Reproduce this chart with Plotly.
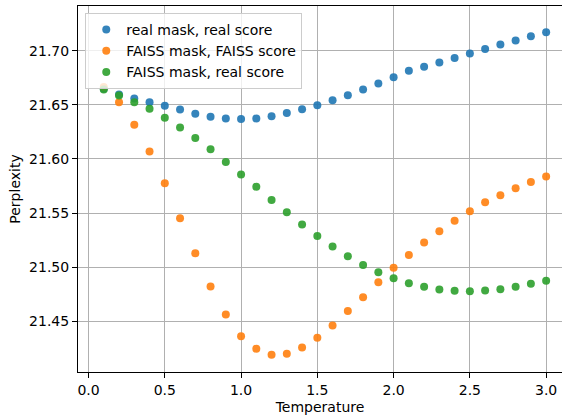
import plotly.graph_objects as go

temperature = [round(0.1 * i, 1) for i in range(1, 31)]

real_mask_real_score = [
    21.6650, 21.6596, 21.6559, 21.6525, 21.6492, 21.6458, 21.6418, 21.6391, 21.6375, 21.6369,
    21.6375, 21.6396, 21.6424, 21.6460, 21.6497, 21.6543, 21.6589, 21.6642, 21.6697, 21.6755,
    21.6816, 21.6853, 21.6892, 21.6933, 21.6975, 21.7016, 21.7058, 21.7095, 21.7135, 21.7172,
]
faiss_mask_faiss_score = [
    21.6666, 21.6525, 21.6317, 21.6069, 21.5775, 21.5453, 21.5128, 21.4822, 21.4562, 21.4362,
    21.4245, 21.4190, 21.4199, 21.4258, 21.4347, 21.4460, 21.4595, 21.4723, 21.4861, 21.4994,
    21.5113, 21.5229, 21.5333, 21.5428, 21.5517, 21.5600, 21.5664, 21.5729, 21.5787, 21.5839,
]
faiss_mask_real_score = [
    21.6642, 21.6586, 21.6525, 21.6464, 21.6381, 21.6290, 21.6194, 21.6090, 21.5971, 21.5857,
    21.5744, 21.5621, 21.5508, 21.5395, 21.5288, 21.5192, 21.5100, 21.5021, 21.4953, 21.4898,
    21.4852, 21.4819, 21.4794, 21.4782, 21.4778, 21.4785, 21.4797, 21.4819, 21.4846, 21.4874,
]

series_names = ["real mask, real score", "FAISS mask, FAISS score", "FAISS mask, real score"]
series_values = [real_mask_real_score, faiss_mask_faiss_score, faiss_mask_real_score]
colors = ["#1f77b4", "#ff7f0e", "#2ca02c"]

x_ticks = [0.0, 0.5, 1.0, 1.5, 2.0, 2.5, 3.0]
y_ticks = [21.45, 21.50, 21.55, 21.60, 21.65, 21.70]

fig = go.Figure()
for name, vals, c in zip(series_names, series_values, colors):
    fig.add_trace(go.Scatter(
        x=temperature, y=vals, mode="markers", name=name,
        marker=dict(color=c, size=8, opacity=0.9, line=dict(width=0)),
    ))

font = "DejaVu Sans, sans-serif"
fig.update_layout(
    width=562, height=415,
    margin=dict(l=78, r=0, t=6, b=41),
    paper_bgcolor="white", plot_bgcolor="white",
    font=dict(family=font, size=14, color="black"),
    showlegend=True,
    legend=dict(
        x=0.015, y=0.981, xanchor="left", yanchor="top",
        bgcolor="rgba(255,255,255,0.8)", bordercolor="#cccccc", borderwidth=1,
        font=dict(family=font, size=14, color="black"),
        itemwidth=30, tracegroupgap=0,
    ),
    xaxis=dict(
        range=[-0.069, 3.104],
        tickvals=x_ticks, ticktext=[f"{v:.1f}" for v in x_ticks],
        showgrid=True, gridcolor="#b0b0b0", gridwidth=1,
        showline=True, linecolor="black", linewidth=1, mirror=True,
        ticks="outside", ticklen=5, tickcolor="black",
        zeroline=False,
        title=dict(text="Temperature", font=dict(family=font, size=14), standoff=7),
    ),
    yaxis=dict(
        range=[21.4031, 21.7414],
        tickvals=y_ticks, ticktext=[f"{v:.2f}" for v in y_ticks],
        showgrid=True, gridcolor="#b0b0b0", gridwidth=1,
        showline=True, linecolor="black", linewidth=1, mirror=False,
        ticks="outside", ticklen=5, tickcolor="black",
        zeroline=False,
        title=dict(text="Perplexity", font=dict(family=font, size=14), standoff=5),
    ),
)

fig.write_html("out.html")
